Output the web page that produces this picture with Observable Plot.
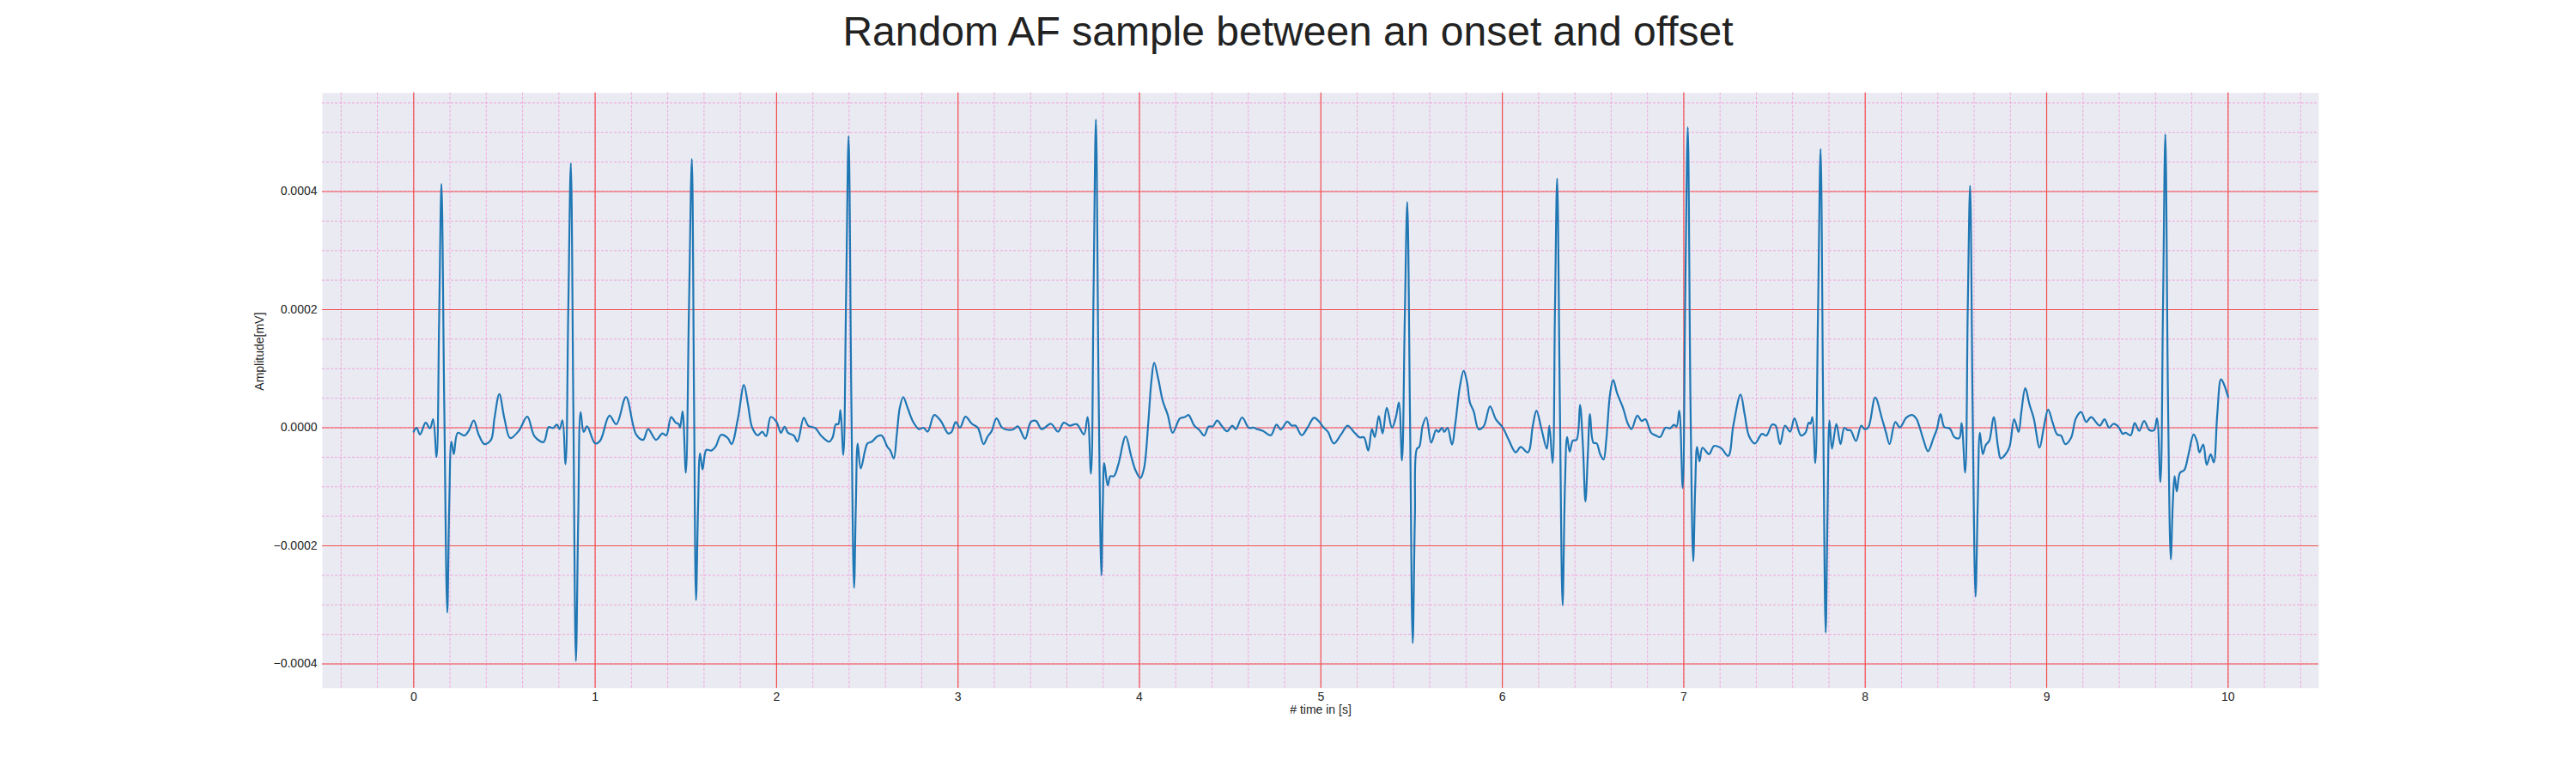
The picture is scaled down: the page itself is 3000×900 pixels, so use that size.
<!DOCTYPE html>
<html><head><meta charset="utf-8">
<script src="https://cdn.jsdelivr.net/npm/d3@7"></script>
<script src="https://cdn.jsdelivr.net/npm/@observablehq/plot@0.6"></script>
<style>
body{margin:0;background:#fff;width:3000px;height:900px;overflow:hidden;font-family:'Liberation Sans',Arial,sans-serif}
#title{width:3000px;height:60px;box-sizing:border-box;padding-top:13px;font-size:48px;line-height:48px;text-align:center;color:#222;white-space:nowrap}
</style></head><body>
<div id="title">Random AF sample between an onset and offset</div>
<div id="chart"></div>
<script>
// time in seconds
const timeSec = [
0.000,0.016,0.035,0.066,0.090,0.107,0.126,0.140,0.153,0.168,0.185,0.196,0.208,0.221,0.243,0.279,0.303,0.331,0.358,0.390,
0.426,0.445,0.472,0.500,0.532,0.579,0.626,0.666,0.716,0.744,0.768,0.789,0.804,0.820,0.837,0.852,0.866,0.880,0.894,0.907,
0.920,0.937,0.956,1.000,1.028,1.079,1.117,1.170,1.226,1.265,1.292,1.336,1.371,1.392,1.419,1.444,1.460,1.468,1.482,1.500,
1.517,1.533,1.545,1.556,1.567,1.578,1.592,1.613,1.640,1.665,1.694,1.731,1.752,1.787,1.820,1.842,1.866,1.897,1.921,1.942,
1.968,2.000,2.024,2.044,2.063,2.095,2.115,2.150,2.174,2.213,2.245,2.289,2.308,2.327,2.340,2.352,2.368,2.383,2.397,2.412,
2.427,2.437,2.447,2.464,2.501,2.525,2.556,2.580,2.611,2.627,2.646,2.663,2.679,2.698,2.722,2.753,2.785,2.809,2.833,2.869,
2.904,2.946,2.964,2.987,3.011,3.041,3.077,3.109,3.141,3.164,3.185,3.212,3.243,3.275,3.306,3.330,3.370,3.401,3.430,3.461,
3.512,3.551,3.583,3.615,3.654,3.694,3.714,3.733,3.747,3.760,3.775,3.790,3.798,3.806,3.825,3.840,3.859,3.883,3.924,3.954,
3.978,4.005,4.025,4.049,4.065,4.081,4.104,4.128,4.156,4.183,4.223,4.251,4.270,4.302,4.330,4.357,4.381,4.405,4.428,4.455,
4.483,4.512,4.531,4.566,4.602,4.630,4.650,4.681,4.724,4.755,4.779,4.815,4.839,4.860,4.894,4.926,4.962,4.989,5.013,5.039,
5.071,5.111,5.147,5.182,5.213,5.237,5.261,5.281,5.297,5.319,5.340,5.363,5.392,5.414,5.430,5.447,5.462,5.476,5.491,5.506,
5.518,5.529,5.542,5.561,5.581,5.608,5.635,5.648,5.667,5.680,5.698,5.722,5.742,5.766,5.787,5.806,5.821,5.842,5.869,5.897,
5.932,5.964,6.003,6.035,6.074,6.101,6.141,6.168,6.188,6.216,6.245,6.259,6.277,6.290,6.302,6.317,6.332,6.345,6.357,6.371,
6.389,6.409,6.428,6.444,6.458,6.472,6.483,6.502,6.520,6.539,6.558,6.573,6.594,6.611,6.633,6.665,6.692,6.712,6.744,6.768,
6.788,6.820,6.847,6.870,6.899,6.925,6.946,6.960,6.975,6.994,7.008,7.022,7.037,7.052,7.063,7.073,7.087,7.103,7.139,7.167,
7.205,7.245,7.273,7.313,7.336,7.360,7.392,7.431,7.455,7.487,7.506,7.531,7.558,7.586,7.610,7.646,7.670,7.689,7.698,7.709,
7.725,7.740,7.754,7.768,7.782,7.792,7.803,7.817,7.841,7.864,7.885,7.904,7.919,7.949,7.978,7.997,8.017,8.055,8.092,8.115,
8.134,8.166,8.191,8.226,8.258,8.281,8.297,8.321,8.346,8.376,8.395,8.415,8.436,8.466,8.491,8.518,8.531,8.551,8.565,8.578,
8.592,8.608,8.620,8.632,8.648,8.664,8.684,8.708,8.732,8.747,8.771,8.795,8.821,8.845,8.861,8.882,8.905,8.929,8.961,8.984,
9.008,9.032,9.058,9.079,9.103,9.134,9.161,9.190,9.218,9.245,9.292,9.319,9.344,9.368,9.395,9.419,9.435,9.463,9.485,9.510,
9.537,9.566,9.592,9.608,9.627,9.641,9.654,9.669,9.684,9.695,9.705,9.717,9.735,9.758,9.782,9.810,9.829,9.842,9.863,9.882,
9.904,9.921,9.940,9.961,9.980,10.000
];
// amplitude in mV
const amplitudeMV = [
-6.6e-6,0,-11.5e-6,8.5e-6,-1e-6,14.5e-6,-49.5e-6,180e-6,413e-6,50e-6,-313e-6,-130e-6,-23.6e-6,-44.7e-6,-8.5e-6,-13.3e-6,-5.4e-6,12.1e-6,-11.5e-6,-27.8e-6,
-20.5e-6,15.7e-6,56.8e-6,15.7e-6,-17.5e-6,-5.4e-6,18.7e-6,-14.5e-6,-24.2e-6,1.2e-6,-0.6e-6,5.4e-6,-2.4e-6,12.7e-6,-61.6e-6,200e-6,448e-6,30e-6,-395e-6,-150e-6,
26.6e-6,-7.2e-6,2.4e-6,-26.6e-6,-21.7e-6,20.5e-6,6e-6,52e-6,-11.5e-6,-20.5e-6,-2.4e-6,-20.5e-6,-9.7e-6,-13e-6,18.1e-6,8.5e-6,6.6e-6,0,27.8e-6,-76.1e-6,
200e-6,455e-6,50e-6,-292e-6,-140e-6,-43.5e-6,-70.7e-6,-37.4e-6,-38.7e-6,-31.4e-6,-12.1e-6,-17.5e-6,-27.8e-6,15.7e-6,72.5e-6,39.9e-6,0,-13e-6,-6.6e-6,-14.5e-6,
18.1e-6,9.7e-6,-8.5e-6,1.8e-6,-8.5e-6,-13.3e-6,-23.6e-6,16.9e-6,3.6e-6,-0.6e-6,-13.3e-6,-23.6e-6,-16.9e-6,6e-6,6e-6,30.2e-6,-45.9e-6,220e-6,494e-6,50e-6,
-271e-6,-130e-6,-26.6e-6,-68.9e-6,-26.6e-6,-23.6e-6,-14.5e-6,-13.3e-6,-32.6e-6,-38.7e-6,-52e-6,-10e-6,33.8e-6,52e-6,33.8e-6,9.7e-6,-2.4e-6,0,-6.6e-6,21.7e-6,
12.1e-6,-9.7e-6,-7.2e-6,9.7e-6,0,18.7e-6,6.6e-6,0,-27.8e-6,-14.5e-6,-6e-6,15.7e-6,0,-3.6e-6,-2.4e-6,2.4e-6,-18.7e-6,9.7e-6,11.5e-6,-2.4e-6,
6.6e-6,-6.6e-6,8.5e-6,3.6e-6,6e-6,-11.5e-6,18.1e-6,-77.9e-6,230e-6,522e-6,60e-6,-250e-6,-130e-6,-59.8e-6,-97.8e-6,-82.1e-6,-82.1e-6,-62.8e-6,-14.5e-6,-47.7e-6,
-71.9e-6,-85.2e-6,-68.9e-6,10e-6,76.1e-6,110e-6,82.1e-6,45.9e-6,21.7e-6,-8.5e-6,15.7e-6,18.1e-6,21.7e-6,3.6e-6,-4e-6,-13.3e-6,1.8e-6,2.4e-6,12.1e-6,2.4e-6,
-6e-6,3.6e-6,-2.4e-6,17.5e-6,0,0,-2.4e-6,-5.4e-6,-12.7e-6,5.4e-6,-3e-6,10.3e-6,3.6e-6,3.6e-6,-12.7e-6,0,16.9e-6,10.9e-6,1.2e-6,-7.2e-6,
-26.6e-6,-11.5e-6,3.6e-6,-7.2e-6,-16.3e-6,-16.3e-6,-38.7e-6,-2.4e-6,-15.7e-6,19.9e-6,-9.7e-6,33.8e-6,0,18.7e-6,42.9e-6,-55.6e-6,180e-6,382e-6,20e-6,-365e-6,
-150e-6,-35.6e-6,-32.6e-6,3.6e-6,17.5e-6,-25.4e-6,-3.6e-6,-7.2e-6,0,-7.2e-6,0,-28.4e-6,9.7e-6,70e-6,96.6e-6,76.1e-6,42.9e-6,27.8e-6,-2.4e-6,2.4e-6,
36.2e-6,14.5e-6,0,-20.5e-6,-41.7e-6,-32.6e-6,-41.7e-6,3.6e-6,29e-6,-2.4e-6,-35.6e-6,3.6e-6,-59.8e-6,200e-6,422e-6,40e-6,-301e-6,-100e-6,-15.7e-6,-40.5e-6,
-21.7e-6,-20.5e-6,38.7e-6,-30e-6,-125e-6,-40e-6,23e-6,-25.4e-6,-26.6e-6,-44.7e-6,-53.8e-6,-20.5e-6,58e-6,80.9e-6,58e-6,33.8e-6,6.6e-6,-2.4e-6,20.5e-6,11.5e-6,
14.5e-6,-8.5e-6,-13.3e-6,-15.7e-6,0,-1e-6,4.8e-6,2e-6,29e-6,-102e-6,220e-6,509e-6,40e-6,-226e-6,-100e-6,-32.6e-6,-56.8e-6,-33.8e-6,-44.7e-6,-30.8e-6,
-34.4e-6,-47.7e-6,3.6e-6,56.2e-6,21.7e-6,-14.5e-6,-26.6e-6,-10.3e-6,-13.3e-6,5.4e-6,3.6e-6,-27.8e-6,3.6e-6,-6.6e-6,15.7e-6,-13.3e-6,-8.5e-6,8.5e-6,6.6e-6,18.1e-6,
-59.8e-6,200e-6,472e-6,40e-6,-347e-6,-150e-6,12.1e-6,-35.6e-6,6.6e-6,-27.8e-6,0,-4.2e-6,-4.2e-6,-22.4e-6,3.6e-6,-2.4e-6,0.6e-6,51.3e-6,15.7e-6,-8.5e-6,
-27.8e-6,9.7e-6,0.6e-6,16.9e-6,21.7e-6,15.7e-6,3.6e-6,-20.5e-6,-39.9e-6,-17.5e-6,-2.4e-6,23e-6,1.2e-6,-1.2e-6,-15.7e-6,-17.5e-6,7.9e-6,-76.1e-6,200e-6,410e-6,
30e-6,-286e-6,-130e-6,-8.5e-6,-44.7e-6,-29.6e-6,-21.7e-6,18.1e-6,-32.6e-6,-52e-6,-45.9e-6,-32.6e-6,14.5e-6,-7.2e-6,28e-6,67e-6,39.9e-6,15.7e-6,-33.8e-6,0,
30.8e-6,9.7e-6,-11.5e-6,-13.3e-6,-27.8e-6,-17.5e-6,15.7e-6,26.6e-6,9.7e-6,18.1e-6,3.6e-6,14.5e-6,0,6.6e-6,1.8e-6,-10.3e-6,-8.5e-6,-12.7e-6,7.9e-6,-5.4e-6,
11.5e-6,-4e-6,-4e-6,15.7e-6,-91.8e-6,200e-6,497e-6,40e-6,-223e-6,-130e-6,-82.1e-6,-108e-6,-76.1e-6,-71.9e-6,-44.7e-6,-11.5e-6,-23.6e-6,-41.7e-6,-28.4e-6,-62.8e-6,
-44.7e-6,-58.6e-6,21.7e-6,82.1e-6,71.3e-6,52e-6
];
const xTicks = [0,1,2,3,4,5,6,7,8,9,10];
const yTicks = [-0.0004,-0.0002,0,0.0002,0.0004];
const xMinorTicks = d3.range(-2, 53).map(i => i / 5);          // every 0.2 s
const yMinorTicks = d3.range(-8, 12).map(i => +(i * 0.00005).toFixed(6)); // every 0.00005

const ecg = timeSec.map((t, i) => ({t, v: amplitudeMV[i]}));

const fmtY = d => (d < 0 ? "\u2212" : "") + Math.abs(d).toFixed(4);
const fmtX = d => String(d);

const chart = Plot.plot({
  width: 3000,
  height: 840,
  marginLeft: 375,
  marginRight: 300,
  marginTop: 47.7,
  marginBottom: 99.3,
  style: {fontFamily: "'Liberation Sans', Arial, sans-serif", fontSize: "14px", color: "#262626", background: "white", overflow: "visible"},
  x: {domain: [-0.503, 10.5], label: null},
  y: {domain: [-0.000441, 0.000567], label: null},
  marks: [
    Plot.frame({fill: "#EAEAF2", stroke: null}),
    Plot.ruleX(xMinorTicks, {x: d => d, stroke: "#f0a6dc", strokeWidth: 1, strokeDasharray: "3,2"}),
    Plot.ruleY(yMinorTicks, {y: d => d, stroke: "#f0a6dc", strokeWidth: 1, strokeDasharray: "3,2"}),
    Plot.ruleX(xTicks, {x: d => d, stroke: "#f24f4f", strokeWidth: 1.2}),
    Plot.ruleY(yTicks, {y: d => d, stroke: "#f24f4f", strokeWidth: 1.2}),
    Plot.axisX(xTicks, {tickSize: 0, tickPadding: 5, label: null, tickFormat: fmtX, fontSize: 14}),
    Plot.axisY(yTicks, {tickSize: 0, tickPadding: 6, label: null, tickFormat: fmtY, fontSize: 14}),
    Plot.line(ecg, {x: "t", y: "v", stroke: "#1f77b4", strokeWidth: 2.2, curve: "catmull-rom"}),
    Plot.text(["Amplitude[mV]"], {frameAnchor: "left", dx: -73, rotate: -90, text: d => d, fontSize: 14, fill: "#262626"}),
    Plot.text(["# time in [s]"], {frameAnchor: "bottom", dy: 30, text: d => d, fontSize: 14, fill: "#262626"})
  ]
});
document.getElementById("chart").appendChild(chart);
</script>
</body></html>
